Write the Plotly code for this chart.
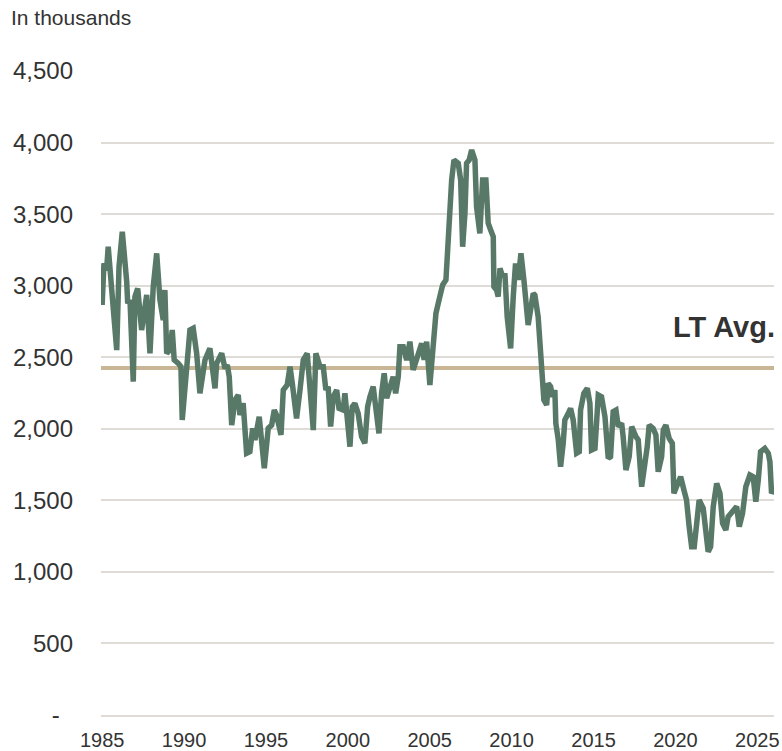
import plotly.graph_objects as go

# readings (decimal year, thousands)
years = [
    1985.00, 1985.11, 1985.27, 1985.37, 1985.62, 1985.89, 1986.03, 1986.23, 1986.50, 1986.56,
    1986.70, 1986.90, 1987.00, 1987.17, 1987.41, 1987.61, 1987.72, 1987.92, 1988.12, 1988.33,
    1988.53, 1988.73, 1988.83, 1988.94, 1989.14, 1989.28, 1989.40, 1989.65, 1989.81, 1989.89,
    1990.10, 1990.36, 1990.56, 1990.77, 1990.97, 1991.28, 1991.58, 1991.89,
    1991.99, 1992.30, 1992.50, 1992.64, 1992.76, 1992.91, 1993.11, 1993.31, 1993.41, 1993.61,
    1993.82, 1994.02, 1994.19, 1994.33, 1994.59, 1994.74, 1994.90, 1995.14, 1995.35, 1995.51,
    1995.65, 1995.92, 1996.06, 1996.30, 1996.47, 1996.61, 1996.87, 1997.08, 1997.28, 1997.52,
    1997.69, 1997.89, 1998.05, 1998.30, 1998.50, 1998.66, 1998.80, 1998.95,
    1999.11, 1999.32, 1999.46, 1999.72, 1999.82, 2000.02, 2000.13, 2000.27, 2000.43, 2000.63,
    2000.84, 2001.04, 2001.21, 2001.35, 2001.55, 2001.70, 2001.90, 2002.06, 2002.22, 2002.37,
    2002.57, 2002.77, 2002.92, 2003.08, 2003.18, 2003.38, 2003.59, 2003.79, 2003.99, 2004.20,
    2004.51, 2004.66, 2004.81, 2005.01,
    2005.21, 2005.38, 2005.52, 2005.67, 2005.79, 2005.99, 2006.13, 2006.34, 2006.48, 2006.74,
    2006.89, 2007.01, 2007.15, 2007.25, 2007.41, 2007.56, 2007.76, 2007.86, 2008.06, 2008.23,
    2008.43, 2008.57, 2008.72, 2008.88, 2008.92, 2009.08, 2009.18, 2009.29, 2009.45, 2009.59,
    2009.73, 2009.94, 2010.10, 2010.24, 2010.40, 2010.57, 2010.75, 2010.87, 2011.01,
    2011.32, 2011.42, 2011.62, 2011.73, 2011.89, 2011.97, 2012.14, 2012.23, 2012.38, 2012.50,
    2012.64, 2012.70, 2012.85, 2012.99, 2013.15, 2013.25, 2013.46, 2013.60, 2013.76, 2013.97,
    2014.13, 2014.21, 2014.41, 2014.62, 2014.78, 2014.88, 2015.09, 2015.29, 2015.49, 2015.70,
    2015.90, 2016.04, 2016.20, 2016.37, 2016.51, 2016.72, 2016.81, 2016.98, 2017.18, 2017.33,
    2017.59, 2017.73, 2017.94,
    2018.14, 2018.28, 2018.40, 2018.64, 2018.81, 2018.95, 2019.16, 2019.26, 2019.42, 2019.62,
    2019.81, 2019.91, 2020.11, 2020.32, 2020.52, 2020.68, 2020.84, 2020.99, 2021.15, 2021.29,
    2021.45, 2021.70, 2021.86, 2022.00, 2022.15, 2022.31, 2022.52, 2022.72, 2022.88, 2023.08,
    2023.22, 2023.49, 2023.74, 2023.90, 2024.10, 2024.30, 2024.55, 2024.75, 2024.91, 2025.06,
    2025.20, 2025.46, 2025.67, 2025.77, 2025.87, 2026.00,
]
inventory = [
    2865, 3156, 3109, 3272, 2923, 2550, 3132, 3377, 3028, 2877,
    2900, 2329, 2923, 2981, 2690, 2900, 2935, 2527, 2993, 3226,
    2900, 2760, 2970, 2527, 2550, 2690, 2481, 2457, 2434, 2061,
    2341, 2690, 2702, 2527, 2248, 2481, 2562, 2283,
    2457, 2527, 2422, 2446, 2364, 2026, 2201, 2236, 2096, 2178,
    1829, 1840, 2003, 1922, 2084, 1899, 1724, 2003, 2026, 2131,
    2096, 1957, 2271, 2306, 2434, 2318, 2073, 2271, 2481, 2527,
    2318, 1991, 2527, 2434, 2434, 2271, 2294, 2015,
    2224, 2271, 2143, 2131, 2248, 2038, 1875, 2154, 2178, 2108,
    1945, 1899, 2154, 2224, 2294, 2154, 1968, 2248, 2388, 2213,
    2294, 2364, 2248, 2364, 2574, 2574, 2481, 2609, 2411, 2481,
    2597, 2481, 2609, 2306,
    2597, 2807, 2877, 2935, 3005, 3040, 3389, 3738, 3878, 3855,
    3738, 3272, 3506, 3855, 3878, 3948, 3878, 3552, 3366, 3738,
    3738, 3436, 3389, 3342, 2993, 2970, 2923, 3121, 3063, 3086,
    2783, 2562, 2923, 3156, 3040, 3226, 3040, 2830, 2725,
    2946, 2935, 2783, 2620, 2411, 2201, 2166, 2318, 2294, 2224,
    2271, 2038, 1922, 1735, 1899, 2061, 2108, 2143, 2061, 1829,
    1840, 2131, 2248, 2283, 2178, 1852, 1863, 2236, 2224, 2084,
    1794, 1805, 2120, 2131, 2015, 2038, 1945, 1712, 1805, 2015,
    1945, 1922, 1595,
    1735, 1875, 2026, 2003, 1957, 1700, 1805, 1991, 2026, 1933,
    1899, 1549, 1607, 1665, 1572, 1502, 1316, 1176, 1176, 1363,
    1502, 1444, 1293, 1141, 1176, 1456, 1619, 1549, 1340, 1293,
    1386, 1421, 1456, 1316, 1409, 1595, 1677, 1665, 1491, 1642,
    1840, 1863, 1829, 1770, 1549, 1572,
]
lt_avg = 2425

tick_years = [1985, 1990, 1995, 2000, 2005, 2010, 2015, 2020, 2025]
y_ticks = [0, 500, 1000, 1500, 2000, 2500, 3000, 3500, 4000, 4500]
y_labels = ["-\u00a0\u00a0", "500", "1,000", "1,500", "2,000", "2,500",
            "3,000", "3,500", "4,000", "4,500"]

FONT = "Arial, Liberation Sans, sans-serif"
TEXT = "#333333"
GRID = "#dfdbd7"

fig = go.Figure()
fig.add_trace(go.Scatter(
    x=[years[0] - 0.1, years[-1] + 0.1], y=[lt_avg, lt_avg],
    mode="lines", line=dict(color="#c8b694", width=4),
    hoverinfo="skip", showlegend=False,
))
fig.add_trace(go.Scatter(
    x=years, y=inventory, mode="lines",
    line=dict(color="#587868", width=5.5),
    showlegend=False,
))

fig.update_layout(
    width=782, height=751,
    margin=dict(l=101, r=8, t=71, b=36),
    paper_bgcolor="white", plot_bgcolor="white",
    font=dict(family=FONT, color=TEXT),
    xaxis=dict(
        range=[1984.93, 2026.02],
        tickvals=tick_years, ticktext=[str(y) for y in tick_years],
        tickfont=dict(size=20, color=TEXT),
        showgrid=False, zeroline=False,
        showline=True, linecolor=GRID, linewidth=1.5,
        ticks="", ticklabelstandoff=6, automargin=False,
    ),
    yaxis=dict(
        range=[0, 4500],
        tickvals=y_ticks, ticktext=y_labels,
        tickfont=dict(size=24, color=TEXT),
        showgrid=True, gridcolor=GRID, gridwidth=1.5,
        zeroline=False, showline=False,
        ticks="", ticklabelstandoff=27, automargin=False,
    ),
    annotations=[
        dict(text="In thousands", xref="paper", yref="paper", x=0, y=1,
             xshift=-92, yshift=54, xanchor="left", yanchor="middle",
             showarrow=False, font=dict(size=21, color=TEXT)),
        dict(text="<b>LT Avg.</b>", xref="paper", yref="y", x=1, y=2711,
             xshift=3, xanchor="right", yanchor="middle",
             showarrow=False, font=dict(size=29, color=TEXT)),
    ],
)

# drop the browser's default 8px body margin so the figure sits at the page corner
fig.write_html(
    "out.html",
    config={"displayModeBar": False},
    post_script="document.body.style.margin = '0px';",
)
